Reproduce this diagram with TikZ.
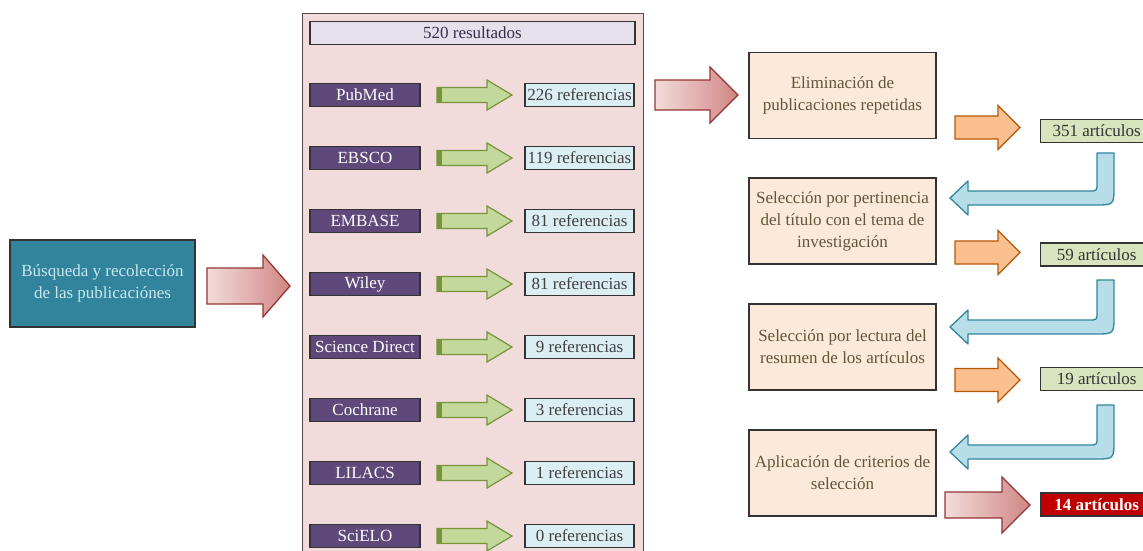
\documentclass[tikz,border=0pt]{standalone}
\usepackage{fontspec}
\setmainfont{Liberation Serif}
\usetikzlibrary{positioning}

\definecolor{tealbox}{HTML}{31849B}
\definecolor{tealtext}{HTML}{C9E7EF}
\definecolor{panelpink}{HTML}{F2DCDB}
\definecolor{panelline}{HTML}{5A4848}
\definecolor{lavender}{HTML}{E5E0EC}
\definecolor{dbpurple}{HTML}{5F497A}
\definecolor{refblue}{HTML}{DBEEF4}
\definecolor{stagepeach}{HTML}{FDE9D9}
\definecolor{stagetext}{HTML}{62563A}
\definecolor{artgreen}{HTML}{D7E4BD}
\definecolor{finalred}{HTML}{C00000}
\definecolor{arrgreen}{HTML}{C3D99B}
\definecolor{arrgreenline}{HTML}{77933C}
\definecolor{arrredA}{HTML}{F2DCDB}
\definecolor{arrredB}{HTML}{D08684}
\definecolor{arrredline}{HTML}{943634}
\definecolor{arrorange}{HTML}{FAC090}
\definecolor{arrorangeline}{HTML}{B65708}
\definecolor{arrblue}{HTML}{B7DEE8}
\definecolor{arrblueline}{HTML}{31859C}

\tikzset{
  boxfont/.style={font=\fontsize{17}{22}\selectfont},
  plainbox/.style={draw=black!80, line width=1.3pt, inner sep=0pt, align=center, boxfont},
  searchbox/.style={plainbox, fill=tealbox, text=tealtext, minimum width=185pt, minimum height=87pt},
  dbpanel/.style={draw=panelline, line width=1.3pt, fill=panelpink, inner sep=0pt},
  totalbox/.style={plainbox, fill=lavender, text=dbpurple!60!black, minimum width=325pt, minimum height=23pt},
  dbbox/.style={plainbox, fill=dbpurple, text=white, minimum width=110pt, minimum height=23pt},
  refbox/.style={plainbox, fill=refblue, text=black!75, minimum width=109pt, minimum height=23pt},
  stagebox/.style={plainbox, fill=stagepeach, text=stagetext, minimum width=187pt, minimum height=86pt},
  artbox/.style={plainbox, fill=artgreen, text=black!80, minimum width=112pt, minimum height=23pt, anchor=west},
  finalbox/.style={artbox, fill=finalred, text=white, font=\fontsize{17}{22}\selectfont\bfseries},
  greenarrow/.style={draw=arrgreenline, line width=1.2pt, fill=arrgreen},
  redarrow/.style={draw=arrredline, line width=1.3pt, left color=arrredA, right color=arrredB},
  orangearrow/.style={draw=arrorangeline, line width=1.3pt, fill=arrorange},
  uturnarrow/.style={draw=arrblueline, line width=1.3pt, fill=arrblue, line join=round},
}

% block arrow: style, x start, x head base, x tip, y centre, shaft half, head half
\newcommand{\blockarrow}[7]{%
  \draw[#1] (#2,#5-#6) -- (#3,#5-#6) -- (#3,#5-#7) -- (#4,#5)
    -- (#3,#5+#7) -- (#3,#5+#6) -- (#2,#5+#6) -- cycle;}
% bent arrow going back left: y top of stem, y centre of shaft
\newcommand{\uturn}[2]{%
  \draw[uturnarrow] (1097,#1) -- (1114,#1) -- (1114,#2-12)
    .. controls (1114,#2+7) .. (1095,#2+7) -- (968,#2+7) -- (968,#2+17)
    -- (950,#2) -- (968,#2-17) -- (968,#2-7) -- (1089,#2-7)
    .. controls (1097,#2-7) .. (1097,#2-15) -- cycle;}

\begin{document}
\begin{tikzpicture}[x=1pt,y=-1pt]
  \useasboundingbox (0,0) rectangle (1143,551);
  \clip (0,0) rectangle (1143,551);
  % Search box and first arrow
  \node[searchbox] (search) at (102.5,283.5) {Búsqueda y recolección\\de las publicaciónes};
  \blockarrow{redarrow}{207}{263}{290}{286}{18}{31}
  % Panel with the databases
  \node[dbpanel, anchor=north west, minimum width=341pt, minimum height=560pt] (panel) at (302,13) {};
  \node[totalbox] (total) at (472.5,33) {520 resultados};
  \foreach \name/\refs [count=\i] in {PubMed/226, EBSCO/119, EMBASE/81, Wiley/81,
      Science Direct/9, Cochrane/3, LILACS/1, SciELO/0} {
    \pgfmathsetmacro{\rowy}{95+63*(\i-1)}
    \node[dbbox] (db\i) at (365,\rowy) {\name};
    \node[refbox] (ref\i) at (579.5,\rowy) {\refs{} referencias};
    \blockarrow{greenarrow}{437}{487}{512}{\rowy}{7.5}{15}
    \fill[arrgreenline] (437,\rowy-7.5) rectangle (442,\rowy+7.5);
  }
  \blockarrow{redarrow}{655}{710}{738}{95}{15}{28}
  % Selection steps
  \node[stagebox] (stage1) at (842.5,95.5) {Eliminación de\\publicaciones repetidas};
  \node[stagebox] (stage2) at (842.5,221) {Selección por pertinencia\\del título con el tema de\\investigación};
  \node[stagebox] (stage3) at (842.5,347) {Selección por lectura del\\resumen de los artículos};
  \node[stagebox] (stage4) at (842.5,473) {Aplicación de criterios de\\selección};
  % Results of each step
  \node[artbox] (art1) at (1040,131) {351 artículos};
  \node[artbox] (art2) at (1040,254.5) {59 artículos};
  \node[artbox] (art3) at (1040,379) {19 artículos};
  \node[finalbox] (art4) at (1040,504.5) {14 artículos};
  \blockarrow{orangearrow}{955}{998}{1020}{127.5}{11.5}{22}
  \blockarrow{orangearrow}{955}{998}{1020}{252.5}{11.5}{22}
  \blockarrow{orangearrow}{955}{998}{1020}{380}{11.5}{22}
  \blockarrow{redarrow}{945}{1002}{1030}{505}{13}{28}
  % Arrows going back to the next step
  \uturn{153}{198}
  \uturn{280}{327}
  \uturn{405}{452}
\end{tikzpicture}
\end{document}
